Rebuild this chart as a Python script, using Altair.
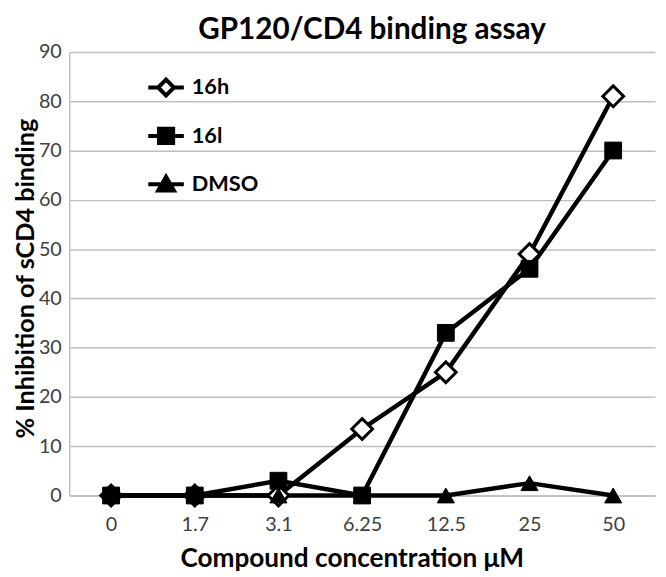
import altair as alt
import pandas as pd

conc = ["0", "1.7", "3.1", "6.25", "12.5", "25", "50"]
s16h = [0, 0, 0, 13.5, 25, 49, 81]
s16l = [0, 0, 3, 0, 33, 46, 70]
dmso = [0, 0, 0, 0, 0, 2.5, 0]
series = ["16h", "16l", "DMSO"]

rows = []
for name, vals in zip(series, [s16h, s16l, dmso]):
    for c, v in zip(conc, vals):
        rows.append({"series": name, "conc": c, "value": v})
df = pd.DataFrame(rows)

FONT = "Lato"

x = alt.X("conc:O", sort=conc, scale=alt.Scale(type="point", padding=0.5),
          axis=alt.Axis(title="Compound concentration μM", labelAngle=0, grid=False,
                        ticks=False, labelPadding=19, titleY=71.5, titleX=286,
                        titleAlign="center", titleBaseline="alphabetic"))
y = alt.Y("value:Q", scale=alt.Scale(domain=[0, 90], nice=False),
          axis=alt.Axis(title="% Inhibition of sCD4 binding", values=list(range(0, 91, 10)),
                        ticks=False, labelPadding=8, titleX=-36, titleY=229,
                        titleBaseline="alphabetic"))

base = alt.Chart(df)

lines = base.mark_line(color="black", strokeWidth=4.5).encode(x=x, y=y, detail="series:N")

p16h = base.transform_filter(alt.datum.series == "16h").mark_point(
    shape="diamond", size=441, filled=True, fill="white", stroke="black",
    strokeWidth=3, opacity=1).encode(x=x, y=y)
p16l = base.transform_filter(alt.datum.series == "16l").mark_point(
    shape="square", size=289, filled=True, fill="black", stroke="black",
    strokeWidth=1, opacity=1).encode(x=x, y=y)
pdmso = base.transform_filter(alt.datum.series == "DMSO").mark_point(
    shape="triangle-up", size=300, filled=True, fill="black", stroke="black",
    strokeWidth=1, opacity=1).encode(x=x, y=y)

paths = [
    "M-2.25,0H-1M1,0H2.25M0,-1L1,0L0,1L-1,0Z",
    "M-2.25,0H2.25M-0.9,-0.9H0.9V0.9H-0.9Z",
    "M-2.25,0H2.25M0,-0.95L1,0.8H-1Z",
]
leg = alt.Legend(title=None, orient="none", legendX=87, legendY=25,
                 labelFont=FONT, labelFontSize=22, labelFontWeight="bold",
                 labelColor="black", symbolSize=256, symbolStrokeWidth=4,
                 symbolOpacity=1, labelOffset=15,
                 rowPadding=17, padding=0)
legend_layer = base.transform_filter("false").mark_point(
    strokeWidth=4, opacity=1).encode(
    x=x, y=y,
    shape=alt.Shape("series:N", scale=alt.Scale(domain=series, range=paths), legend=leg),
    fill=alt.Fill("series:N", scale=alt.Scale(domain=series, range=["white", "black", "black"]), legend=leg),
    stroke=alt.Stroke("series:N", scale=alt.Scale(domain=series, range=["black", "black", "black"]), legend=leg),
)

chart = alt.layer(lines, p16h, p16l, pdmso, legend_layer).properties(
    width=593, height=449,
    autosize="none",
    padding={"left": 62, "top": 41, "right": 3, "bottom": 78},
    title=alt.TitleParams("GP120/CD4 binding assay", font=FONT, fontSize=30,
                          fontWeight="bold", color="black", anchor="middle",
                          dx=10, offset=-3),
).configure_view(stroke=None).configure_axis(
    domainColor="#bfbfbf", domainWidth=1.5, gridColor="#bfbfbf", gridWidth=1.5,
    labelFont=FONT, labelFontSize=20, labelColor="#404040",
    titleFont=FONT, titleFontWeight="bold", titleColor="black",
).configure_axisX(titleFontSize=26.5).configure_axisY(titleFontSize=25.5)

chart.save("out.html", embed_options={"renderer": "svg", "actions": False})
